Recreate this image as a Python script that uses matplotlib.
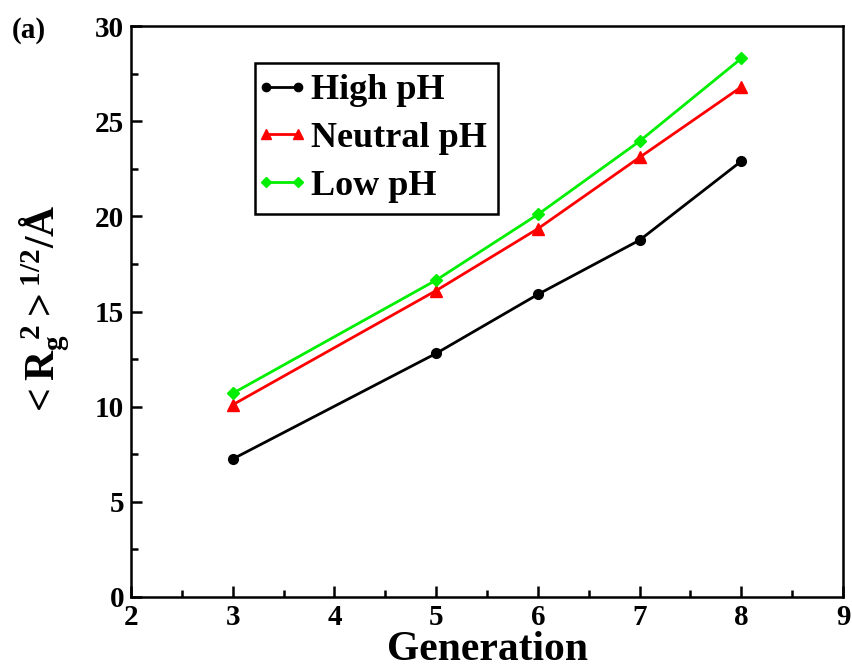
import matplotlib
matplotlib.use("Agg")
import matplotlib.pyplot as plt
from matplotlib.legend_handler import HandlerLine2D
from matplotlib.ticker import MultipleLocator

plt.rcParams["font.family"] = "Liberation Serif"
plt.rcParams["font.weight"] = "bold"
plt.rcParams["mathtext.fontset"] = "custom"
plt.rcParams["mathtext.rm"] = "Liberation Serif:bold"
plt.rcParams["mathtext.it"] = "Liberation Serif:bold"
plt.rcParams["mathtext.bf"] = "Liberation Serif:bold"

# data
generation = [3, 5, 6, 7, 8]
high_ph = [7.25, 12.8, 15.9, 18.75, 22.9]
neutral_ph = [10.1, 16.1, 19.35, 23.1, 26.8]
low_ph = [10.7, 16.65, 20.1, 23.95, 28.3]

fig = plt.figure(figsize=(8.53, 6.68), dpi=100)
ax = fig.add_axes([0.1536, 0.1063, 0.8347, 0.8547])

l1, = ax.plot(generation, high_ph, color="black", lw=2.0, marker="o", ms=7,
              label="High pH")
l2, = ax.plot(generation, neutral_ph, color="#ff0000", lw=2.0, marker="^",
              ms=8, label="Neutral pH")
l3, = ax.plot(generation, low_ph, color="#00ee00", lw=2.0, marker="D", ms=6,
              label="Low pH")

ax.set_xlim(2, 9)
ax.set_ylim(0, 30)
ax.xaxis.set_major_locator(MultipleLocator(1))
ax.xaxis.set_minor_locator(MultipleLocator(0.5))
ax.yaxis.set_major_locator(MultipleLocator(5))
ax.yaxis.set_minor_locator(MultipleLocator(2.5))
ax.tick_params(which="both", direction="in", width=1.8, labelsize=21,
               top=False, right=False)
ax.tick_params(which="major", length=8, pad=5)
ax.tick_params(which="minor", length=5)
for lab in ax.get_xticklabels() + ax.get_yticklabels():
    lab.set_fontweight("bold")
for sp in ax.spines.values():
    sp.set_linewidth(1.8)

ax.set_xlabel("Generation", fontsize=30, fontweight="bold", labelpad=0)
ax.set_ylabel(r"$<R_g^{\ 2}>^{1/2}/$Å", fontsize=30, fontweight="bold")
ax.yaxis.set_label_coords(-0.083, 0.5)

# markers sit at both ends of the legend line
hmap = {h: HandlerLine2D(marker_pad=0, numpoints=2) for h in (l1, l2, l3)}
leg = ax.legend(loc="upper left", bbox_to_anchor=(0.174, 0.935),
                handler_map=hmap, markerscale=0.85,
                handlelength=0.9, handletextpad=0.36, labelspacing=0.4,
                borderpad=0.3, borderaxespad=0, fancybox=False,
                edgecolor="black", framealpha=1,
                prop={"size": 26, "weight": "bold"})
leg.get_frame().set_linewidth(1.8)

fig.text(0.014, 0.955, "(a)", fontsize=21, fontweight="bold", va="center")

fig.savefig("out.png", dpi=100)
